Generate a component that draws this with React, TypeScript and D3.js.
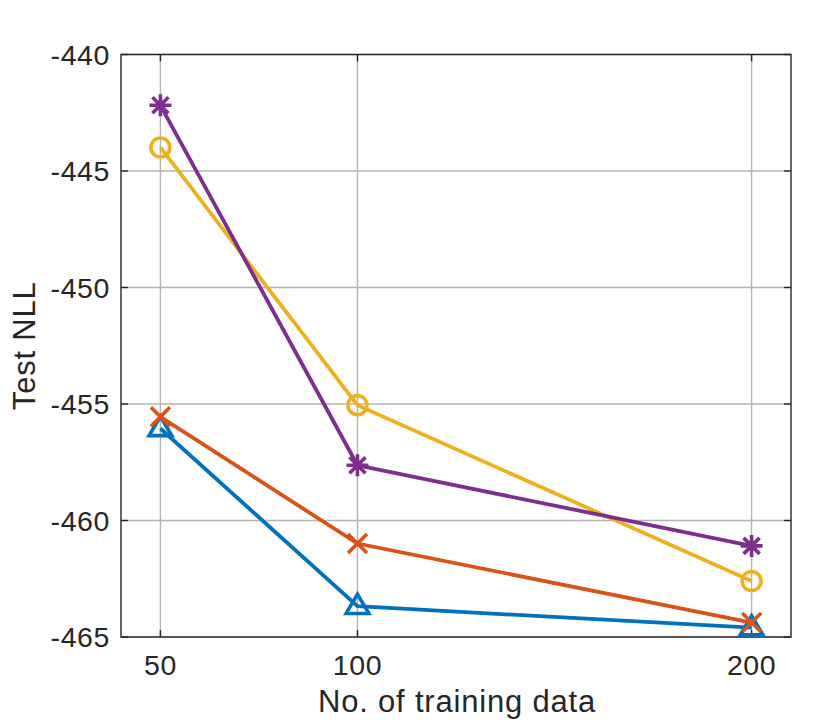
import { useRef, useEffect } from "react";
import * as d3 from "d3";

const sizes = [50, 100, 200];
const yTicks = [-440, -445, -450, -455, -460, -465];

// Test NLL per method (MATLAB colour order)
const blueTriangle = [-456.05, -463.68, -464.6];
const orangeCross = [-455.55, -460.99, -464.38];
const yellowCircle = [-443.99, -455.05, -462.6];
const purpleStar = [-442.18, -457.63, -461.09];

const series = [
  { name: "blue", values: blueTriangle, color: "#0072BD", marker: "triangle" },
  { name: "orange", values: orangeCross, color: "#D95319", marker: "cross" },
  { name: "yellow", values: yellowCircle, color: "#EDB120", marker: "circle" },
  { name: "purple", values: purpleStar, color: "#7E2F8E", marker: "star" },
];

export default function App() {
  const svgRef = useRef<SVGSVGElement>(null);

  useEffect(() => {
    if (!svgRef.current) return;
    const svg = d3.select(svgRef.current);
    svg.selectAll("*").remove();

    const width = 830;
    const height = 724;
    const left = 121;
    const right = 791;
    const top = 54.5;
    const bottom = 637;
    const font = "'Liberation Sans', Arial, Helvetica, sans-serif";
    const textColor = "#262626";

    const x = d3.scaleLinear().domain([40, 210]).range([left, right]);
    const y = d3.scaleLinear().domain([-465, -440]).range([bottom, top]);

    svg.attr("width", width).attr("height", height);

    svg.append("rect").attr("width", width).attr("height", height).attr("fill", "#fff");

    // Grid
    const grid = svg.append("g").attr("stroke", "#b4b4b4").attr("stroke-width", 1.4);
    sizes.forEach((s) => {
      grid.append("line").attr("x1", x(s)).attr("x2", x(s)).attr("y1", top).attr("y2", bottom);
    });
    yTicks.forEach((t) => {
      grid.append("line").attr("x1", left).attr("x2", right).attr("y1", y(t)).attr("y2", y(t));
    });

    // Box and inner ticks
    const axis = svg.append("g").attr("stroke", textColor).attr("stroke-width", 1.4).attr("fill", "none");
    axis.append("rect")
      .attr("x", left)
      .attr("y", top)
      .attr("width", right - left)
      .attr("height", bottom - top);
    const tl = 7;
    yTicks.forEach((t) => {
      axis.append("line").attr("x1", left).attr("x2", left + tl).attr("y1", y(t)).attr("y2", y(t));
      axis.append("line").attr("x1", right).attr("x2", right - tl).attr("y1", y(t)).attr("y2", y(t));
    });
    sizes.forEach((s) => {
      axis.append("line").attr("x1", x(s)).attr("x2", x(s)).attr("y1", bottom).attr("y2", bottom - tl);
      axis.append("line").attr("x1", x(s)).attr("x2", x(s)).attr("y1", top).attr("y2", top + tl);
    });

    // Tick labels
    svg.append("g")
      .selectAll("text")
      .data(yTicks)
      .enter()
      .append("text")
      .attr("x", left - 11)
      .attr("y", (d) => y(d))
      .attr("dy", "0.36em")
      .attr("text-anchor", "end")
      .attr("font-family", font)
      .attr("font-size", 28.5)
      .attr("letter-spacing", 0.6)
      .attr("fill", textColor)
      .text((d) => String(d));

    svg.append("g")
      .selectAll("text")
      .data(sizes)
      .enter()
      .append("text")
      .attr("x", (d) => x(d))
      .attr("y", 675)
      .attr("text-anchor", "middle")
      .attr("font-family", font)
      .attr("font-size", 28.5)
      .attr("letter-spacing", 0.6)
      .attr("fill", textColor)
      .text((d) => String(d));

    // Axis titles
    svg.append("text")
      .attr("x", (left + right) / 2 + 1)
      .attr("y", 712)
      .attr("text-anchor", "middle")
      .attr("font-family", font)
      .attr("font-size", 31)
      .attr("letter-spacing", 0.8)
      .attr("fill", textColor)
      .text("No. of training data");

    svg.append("text")
      .attr("transform", `translate(35, ${(top + bottom) / 2}) rotate(-90)`)
      .attr("text-anchor", "middle")
      .attr("font-family", font)
      .attr("font-size", 31)
      .attr("letter-spacing", 0.8)
      .attr("fill", textColor)
      .text("Test NLL");

    // Lines and markers
    const line = d3
      .line<number>()
      .x((_, i) => x(sizes[i]))
      .y((d) => y(d));

    series.forEach((s) => {
      const g = svg.append("g");
      g.append("path")
        .attr("d", line(s.values))
        .attr("fill", "none")
        .attr("stroke", s.color)
        .attr("stroke-width", 3.8);

      s.values.forEach((v, i) => {
        const cx = x(sizes[i]);
        const cy = y(v);
        const m = g.append("g")
          .attr("transform", `translate(${cx},${cy})`)
          .attr("stroke", s.color)
          .attr("stroke-width", 3.6)
          .attr("fill", "none");
        if (s.marker === "circle") {
          m.append("circle").attr("r", 9.5);
        } else if (s.marker === "triangle") {
          const r = 12;
          m.append("path")
            .attr("d", `M0,${-r}L${r * 0.95},${r * 0.6}L${-r * 0.95},${r * 0.6}Z`)
            .attr("stroke-linejoin", "miter");
        } else if (s.marker === "cross") {
          const r = 9.5;
          m.append("path").attr("d", `M${-r},${-r}L${r},${r}M${-r},${r}L${r},${-r}`);
        } else {
          const r = 11;
          const r2 = 8;
          m.append("path").attr(
            "d",
            `M0,${-r}L0,${r}M${-r},0L${r},0M${-r2},${-r2}L${r2},${r2}M${-r2},${r2}L${r2},${-r2}`
          );
        }
      });
    });
  }, []);

  return (
    <svg
      ref={svgRef}
      style={{ position: "absolute", left: 0, top: 0, display: "block" }}
    />
  );
}
